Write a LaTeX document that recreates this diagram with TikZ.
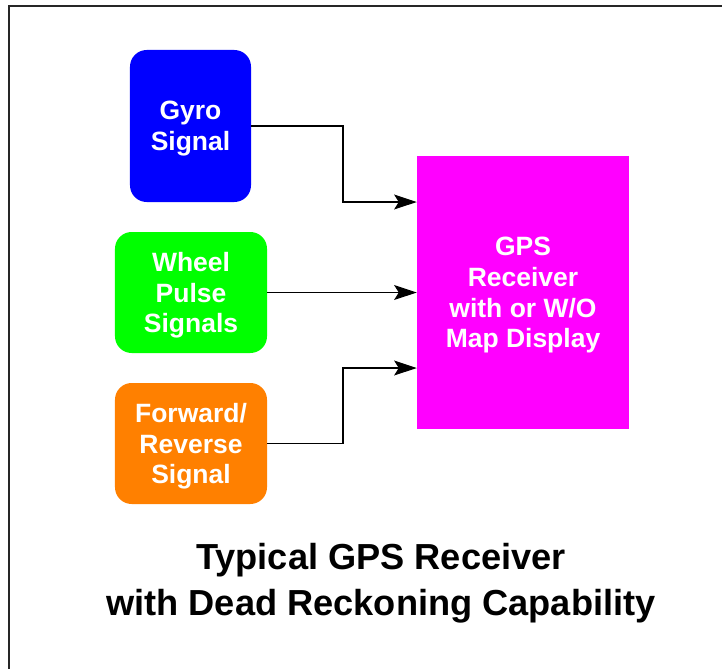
\documentclass[tikz,border=0pt]{standalone}
\usepackage{fontspec}
\setmainfont{Liberation Sans}
\usetikzlibrary{arrows.meta}

\definecolor{gyroblue}{RGB}{0,0,255}
\definecolor{wheelgreen}{RGB}{0,255,0}
\definecolor{fwdorange}{RGB}{255,128,0}
\definecolor{gpsmagenta}{RGB}{255,0,255}

\begin{document}
\begin{tikzpicture}[x=0.03cm,y=-0.03cm,
                       box node/.style={rounded corners=0.5cm,text=white,align=center,
                                        inner sep=0pt,text depth=-1.5pt,
                                        font=\fontsize{22.6}{26.3}\selectfont\bfseries},
                       gps node/.style={fill=gpsmagenta,text=white,align=center,
                                        inner sep=0pt,text depth=-1.5pt,
                                        minimum width=6.36cm,minimum height=8.19cm,
                                        font=\fontsize{22.6}{26.3}\selectfont\bfseries},
                       conn/.style={line width=1pt,-{Stealth[length=0.68cm,width=0.45cm,inset=0.14cm]}}
                      ]
   \clip (0,0) rectangle (722,669);
   % frame, cut off at the right and at the bottom
   \draw[line width=2pt,black!85] (9,700) |- (740,6);

   \node[box node,fill=gyroblue,minimum width=3.63cm,minimum height=4.56cm]
        (gyro) at (190.5,126) {Gyro\\Signal};
   \node[box node,fill=wheelgreen,minimum width=4.56cm,minimum height=3.63cm]
        (wheel) at (191,292.5) {Wheel\\Pulse\\Signals};
   \node[box node,fill=fwdorange,minimum width=4.56cm,minimum height=3.63cm]
        (fwdrev) at (191,443.5) {Forward/\\Reverse\\Signal};
   \node[gps node] (gps) at (523,292.5) {GPS\\Receiver\\with or W/O\\Map Display};

   \draw[conn] (gyro.east) -| (343,202) -- (gps.west |- 0,202);
   \draw[conn] (wheel.east) -- (gps.west);
   \draw[conn] (fwdrev.east) -| (343,368) -- (gps.west |- 0,368);

   \node[align=center,font=\fontsize{30.9}{39}\selectfont\bfseries] (title) at (381,583)
        {Typical GPS Receiver\\with Dead Reckoning Capability};
 \end{tikzpicture}
\end{document}
